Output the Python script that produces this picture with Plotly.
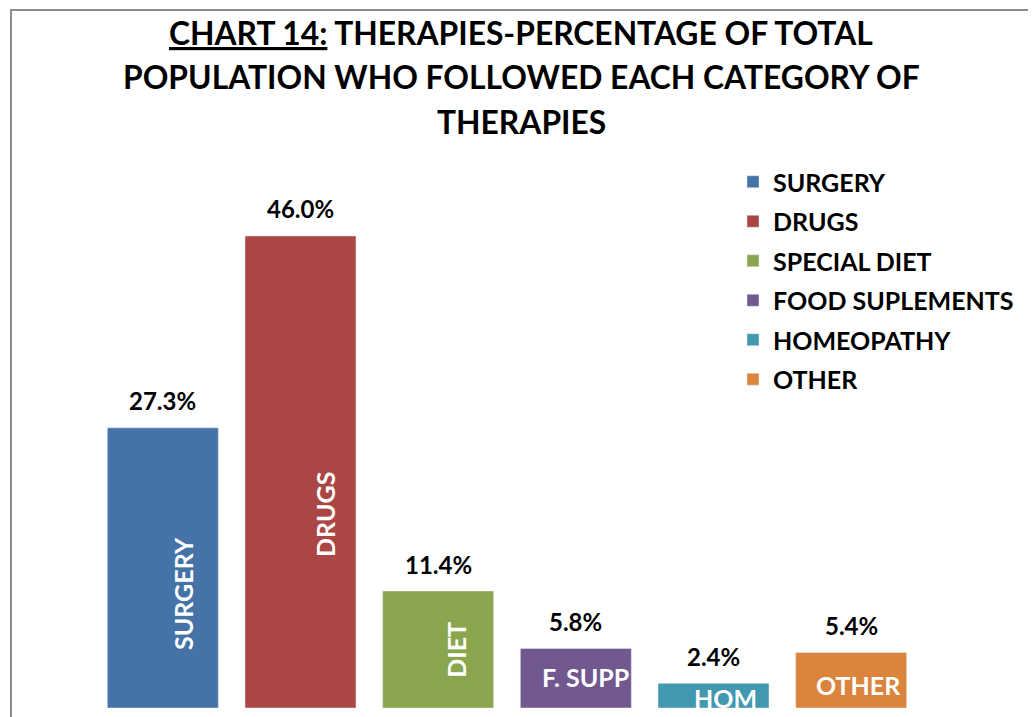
import plotly.graph_objects as go

# data
categories = ['SURGERY', 'DRUGS', 'SPECIAL DIET', 'FOOD SUPLEMENTS', 'HOMEOPATHY', 'OTHER']
bar_labels = ['SURGERY', 'DRUGS', 'DIET', 'F. SUPP', 'HOM', 'OTHER']
percentages = [27.3, 46.0, 11.4, 5.8, 2.4, 5.4]
colors = ['#4572A7', '#AA4643', '#89A54E', '#71588F', '#4198AF', '#DB843D']
title_lines = ['<u>CHART 14:</u> THERAPIES-PERCENTAGE OF TOTAL',
               'POPULATION WHO FOLLOWED EACH CATEGORY OF',
               'THERAPIES']

W, H = 1036, 717
OFF = 8  # page body margin of the html
ML, MR, MT, MB = 86, 124, 162, 17
FONT = 'Lato'
pw = W - ML - MR
ph = H - MT - MB


# page pixel -> paper coords
def px_x(x):
    return (x - OFF - ML) / pw


def px_y(y):
    return (H - MB - (y - OFF)) / ph


# label styling inside the bars: (angle, fraction of bar height, xshift)
inner_style = {
    'SURGERY': (-90, 0.41, 20),
    'DRUGS': (-90, 0.41, 25),
    'DIET': (-90, 0.50, 17),
    'F. SUPP': (0, 0.52, 10),
    'HOM': (0, 0.42, 12),
    'OTHER': (0, 0.41, 7),
}

fig = go.Figure()
for cat, val, col in zip(categories, percentages, colors):
    fig.add_trace(go.Bar(x=[cat], y=[val], name=cat, marker_color=col,
                         width=0.806, legendgroup=cat, hoverinfo='skip'))

annotations = []
for i, line in enumerate(title_lines):
    annotations.append(dict(x=px_x(521), y=px_y(33 + 44.5 * i), xref='paper', yref='paper',
                            text=f'<b>{line}</b>', showarrow=False,
                            xanchor='center', yanchor='middle',
                            font=dict(family=FONT, size=31.8, color='black')))

for cat, lab, val in zip(categories, bar_labels, percentages):
    annotations.append(dict(x=cat, y=val, text=f'<b>{val:.1f}%</b>', showarrow=False,
                            yshift=27, font=dict(family=FONT, size=24, color='black')))
    ang, frac, xs = inner_style[lab]
    annotations.append(dict(x=cat, y=val * frac, text=f'<b>{lab}</b>', showarrow=False,
                            textangle=ang, xshift=xs,
                            font=dict(family=FONT, size=25, color='white')))

# gray chart border (left and top edges)
fig.add_shape(type='line', xref='paper', yref='paper',
              x0=px_x(11), x1=px_x(11), y0=px_y(H + 20), y1=px_y(10),
              line=dict(color='#8c8c8c', width=2))
fig.add_shape(type='line', xref='paper', yref='paper',
              x0=px_x(10), x1=px_x(W + 20), y0=px_y(10), y1=px_y(10),
              line=dict(color='#8c8c8c', width=2))

fig.update_layout(
    width=W, height=H,
    margin=dict(l=ML, r=MR, t=MT, b=MB),
    paper_bgcolor='white', plot_bgcolor='white',
    barmode='overlay',
    xaxis=dict(range=[-0.5, 5.5], visible=False),
    yaxis=dict(range=[0, 52.43], visible=False),
    legend=dict(x=px_x(733), y=px_y(159), yanchor='top', xanchor='left',
                tracegroupgap=4,
                font=dict(family=FONT, size=25, color='black', weight='bold'),
                bgcolor='rgba(0,0,0,0)'),
    annotations=annotations,
    showlegend=True,
)

fig.write_html('out.html')
